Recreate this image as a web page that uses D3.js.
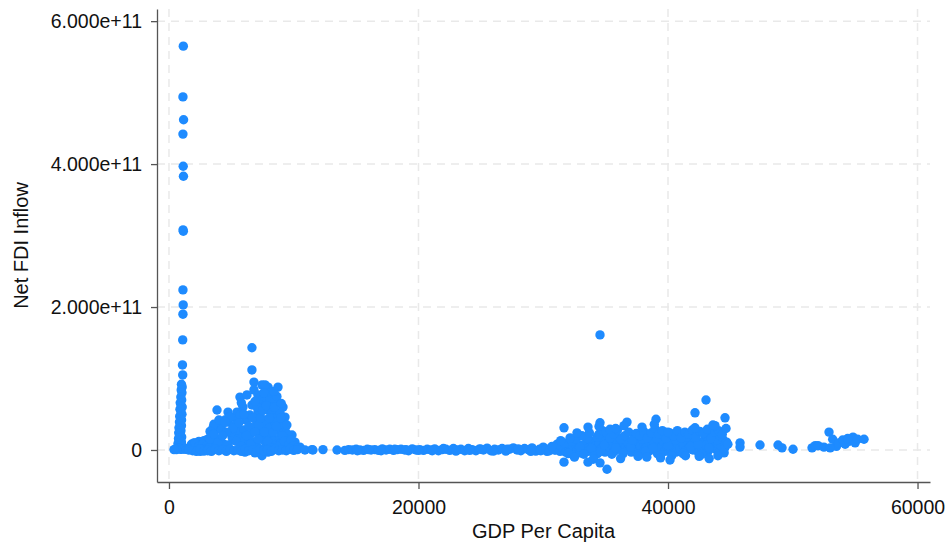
<!DOCTYPE html>
<html>
<head>
<meta charset="utf-8">
<script src="https://cdn.jsdelivr.net/npm/d3@7"></script>
<style>
  html, body { margin: 0; padding: 0; background: #ffffff; }
  svg { display: block; font-family: "Liberation Sans", Arial, sans-serif; }
</style>
</head>
<body>
<svg id="chart" width="948" height="542"></svg>
<script>
// ---- Data: [GDP per capita (US$), net FDI inflow (billions US$)] ----
const lowIncomeSpike = [
  [1150,565],[1120,494],[1170,462],[1120,442],[1140,397],[1160,383],[1130,308],[1150,306],
  [1120,224],[1140,203],[1120,190],[1100,154],[1080,119],[1100,105],[1000,92],[1060,88],
  [980,84],[1040,80],[950,74],[1020,70],[900,66],[980,62],[1060,60],[880,57],[960,53],
  [1040,50],[860,47],[940,44],[1010,42],[840,39],[920,36],[1000,34],[800,31],[880,29],
  [960,27],[780,24],[860,22],[940,20],[1020,18],[760,16],[840,14],[920,12],[1000,11],
  [720,9],[800,8],[880,7],[960,6],[1040,5],[1120,4],[680,3],[760,2],[840,2],[920,1],
  [1000,1],[1200,1],[1300,2],[1400,1],[600,0.5],[500,1],[400,0.5],[1500,0.5],[1600,1]
];
const lowerMiddleRamp = [
  [1700,4],[1800,8],[1900,3],[2000,10],[2100,6],[2200,2],[2300,9],[2400,12],[2500,5],
  [2600,11],[2700,3],[2800,13],[2900,8],[3000,14],[3100,4],[3200,16],[3300,10],[3400,20],
  [3500,25],[3600,15],[3700,6],[3800,30],[2200,-1],[2500,-2],[2800,0],[3100,-1],[3400,2],
  [3530,31],[3600,36],[3850,56],[4730,53],[4250,35],[4490,42],[5050,18],[3290,26],
  [4000,42],[4810,46],[5210,46],[5370,21],[4730,39],[4100,15],[4400,8],
  [1800,2],[2100,10],[2400,5],[2700,8],[3000,6],[3300,15],[3600,22],[3900,10],[4200,28],
  [2600,1],[3200,3]
];
const upperMiddleCluster = [
  [5690,74],[6250,77],[5930,60],[5450,53],[4890,46],[4490,39],
  [6650,143],[6650,112],[6810,95],[6810,84],
  [7940,88],[8740,88],[8260,81],[7700,70],[8260,66],[7455,73],
  [9140,60],[9300,46],[8900,38],[9060,24],[9860,21],[10100,11],[10500,4],
  [6090,7],[6330,14],[6490,21],[6730,31],[6970,42],[7130,53],[7300,63],
  [7455,28],[7700,42],[7940,56],[8100,73],[8500,70],[8580,53],[8740,42],[8260,35],
  [8100,21],[8500,14],[8900,17],[9300,28],[9540,14],[9140,7],[9700,4],[7780,7],
  [7130,3],[6490,0],[7455,-8],[7940,-3],[6890,-4],[6090,-3],
  [5290,35],[5530,28],[5850,17],[6170,42],[6010,28],[6490,49],[6650,63],[5690,49],
  [5130,14],[4730,7],[7130,77],[7455,91],[7780,81],[8260,53],[7780,35],[7700,91],
  [7000,10],[7300,18],[7600,14],[7850,22],[8300,8],[8700,28],[9000,10],[9400,5],
  [6800,5],[6600,12],[8000,30],[8400,45],[8900,52],[7200,35],[9200,36],[9500,22],
  [5000,25],[5400,12],[5600,38],[5800,5],[6000,50],[6200,20],[6400,33],[6550,8],[6700,45],
  [6900,25],[7050,60],[7150,15],[7350,45],[7500,55],[7650,25],[7800,62],[7900,12],[8050,45],
  [8150,3],[8350,25],[8450,60],[8600,33],[8800,5],[8950,45],[9100,20],[9250,12],[9450,35],
  [9600,8],[9800,14],[10000,6],[10200,2],[8650,75],[8400,82],[9000,65],[7600,80],[6900,68],
  [5800,66],[5100,30],[4600,25],[4300,20]
];
const middleBaseline = [
  [1600,0],[1900,-1],[2200,-2],[2500,1],[2800,-1.5],[3100,0],[3400,-2],[3700,1],[4000,-1],
  [4300,0.5],[4600,-2],[4900,1],[5200,-1],[5500,0],[5800,-2],[6100,1],[6400,-1],[6700,0],
  [7000,-3],[7300,1],[7600,-1],[7900,0.5],[8200,-2],[8500,1],[8800,-1],[9100,0],[9400,-1],
  [9700,1],[10000,-0.5],[10300,0.5],[10900,0],[11460,0.5]
];
const highIncomeBaseline = [
  [11540,0],[12345,0.5],[13470,0],[14100,-0.5],[14400,0.5],[14700,0],[15000,1],[15300,0],
  [15600,-0.5],[15900,1],[16200,0],[16500,0.5],[16800,-0.5],[17100,1.5],[17400,0],[17700,1],
  [18000,-0.5],[18300,0.5],[18600,1],[18900,0],[19200,-1],[19500,1.5],[19800,0],[20100,0.5],
  [20400,-0.5],[20700,1],[21000,0],[21300,1.5],[21600,-1],[21900,0.5],[22200,1],[22500,-0.5],
  [22800,2],[23100,0],[23400,1],[23700,-1],[24000,2],[24300,0.5],[24600,-1],[24900,1.5],
  [25200,0],[25500,2.5],[25800,-1],[26100,1],[26400,0],[26700,2],[27000,-1.5],[27300,1],
  [27600,3],[27900,0],[28200,-1],[28500,2],[28800,0.5],[29100,3],[29400,-1.5],[29700,1],
  [30000,4],[30300,-2],[30600,2.5],[30900,0],
  [15100,-1],[16000,0.5],[17000,-1],[18100,1],[19000,0.5],[20000,-0.5],[21100,-1],[22000,2],
  [23000,-1.5],[24100,-0.5],[25000,1],[26000,-1.5],[27100,1],[28000,1.5],[29000,-2],[29800,-1]
];
const highIncomeCloud = [
  [30200,1],[30500,-1],[30800,2],[31000,0],[31200,3],[31350,-2],[31500,4],[31650,1],[31800,-3],
  [31950,6],[32100,2],[32250,-1],[32400,5],[32550,8],[32700,0],[32850,3],[33000,-4],[33150,7],
  [33300,1],[33450,10],[33600,-2],[33750,4],[33900,12],[34050,0],[34200,6],[34350,-5],[34500,9],
  [34650,2],[34800,14],[34950,-3],[35100,5],[35250,11],[35400,0],[35550,7],[35700,-2],[35850,13],
  [36000,3],[36150,8],[36300,-1],[36450,10],[36600,4],[36750,1],[36900,6],[37050,-3],[37200,9],
  [37350,2],[37500,12],[37650,0],[37800,5],[37950,-4],[38100,8],[38250,3],[38400,14],[38550,-1],
  [38700,6],[38850,10],[39000,1],[39150,-5],[39300,7],[39450,3],[39600,12],[39750,-2],[39900,5],
  [40050,9],[40200,0],[40350,15],[40500,4],[40650,-3],[40800,8],[40950,2],[41100,11],[41250,6],
  [41400,-1],[41550,13],[41700,3],[41850,9],[42000,0],[42150,16],[42300,5],[42450,-4],[42600,10],
  [42750,2],[42900,14],[43050,7],[43200,-2],[43350,12],[43500,4],[43650,18],[43800,1],[43950,9],
  [44100,-3],[44250,6],[44400,15],[44550,3],[44700,11],
  [31100,8],[31700,10],[32000,-5],[32300,12],[32650,15],[32950,4],[33250,-6],[33550,16],[33850,2],
  [34100,-8],[34300,18],[34600,-2],[34900,7],[35200,20],[35500,-6],[35800,3],[36100,17],[36400,-5],
  [36700,12],[37000,4],[37300,18],[37600,-6],[37900,15],[38200,-2],[38500,20],[38800,3],[39100,16],
  [39400,-7],[39700,19],[40000,6],[40300,-8],[40600,14],[40900,21],[41200,-5],[41500,18],[41800,5],
  [42100,22],[42400,8],[42700,-6],[43000,20],[43300,3],[43600,24],[43900,14],[44200,20],[44500,-4],
  [44800,8],
  [30700,5],[31400,13],[32150,17],[33100,20],[33700,24],[34450,22],[34750,27],[35050,25],[35350,17],
  [35650,22],[35950,28],[36250,15],[36550,20],[36850,25],[37150,14],[37450,23],[37750,20],[38050,26],
  [38350,17],[38650,24],[38950,30],[39250,22],[39550,27],[39850,16],[40150,24],[40450,20],[40750,27],
  [41050,17],[41350,25],[41650,22],[41950,28],[42250,18],[42550,26],[42850,23],[43150,29],[43450,16],
  [43750,25],[44050,27],[44350,22],[44650,30],
  [34549,161],[43046,70],[42164,52],[44570,45],[39038,43],[36713,39],[36473,34],[34549,38],
  [33587,32],[31663,31],[32705,24],[35351,29],[37916,32],[43767,34],[42164,31],[34470,33],
  [40000,25],[43600,35],[38900,36],[35800,30],
  [35111,-27],[34549,-18],[31663,-17],[33587,-17],[40161,-14],[38300,-10],[41400,-8],[42500,-9],
  [44000,-8],[32500,-10],[36200,-12],[37600,-9],[39400,-11],[43300,-12],[34000,-13]
];
const richTail = [
  [45773,10],[45773,4],[47376,7],[48819,7],[49140,3],[50021,1],[51544,3],[51800,6],[52025,6],
  [52500,4],[52906,25],[53200,15],[53500,5],[53700,10],[54000,14],[54200,8],[54500,12],
  [54830,18],[55000,10],[55200,15],[55712,15],[53000,3],[54400,16]
];

const xTickValues = [0, 20000, 40000, 60000];
const xTickLabels = ["0", "20000", "40000", "60000"];
const yTickValues = [0, 2e11, 4e11, 6e11];
const yTickLabels = ["0", "2.000e+11", "4.000e+11", "6.000e+11"];
const xTitle = "GDP Per Capita";
const yTitle = "Net FDI Inflow";

// ---- Drawing ----
const BILLION = 1e9;
const allPoints = [].concat(lowIncomeSpike, lowerMiddleRamp, upperMiddleCluster,
  middleBaseline, highIncomeBaseline, highIncomeCloud, richTail);

const plot = { left: 157, right: 930, top: 9, bottom: 482 };
const x = d3.scaleLinear().domain([-960, 61000]).range([plot.left, plot.right]);
const y = d3.scaleLinear().domain([-0.448e11, 6.17e11]).range([plot.bottom, plot.top]);

const svg = d3.select("#chart");
svg.append("rect").attr("width", 948).attr("height", 542).attr("fill", "#ffffff");

const gridColor = "#e9e9e9";
svg.append("g").selectAll("line").data(yTickValues).join("line")
  .attr("x1", plot.left).attr("x2", plot.right)
  .attr("y1", d => y(d)).attr("y2", d => y(d))
  .attr("stroke", gridColor).attr("stroke-width", 1.5).attr("stroke-dasharray", "8,6");
svg.append("g").selectAll("line").data(xTickValues).join("line")
  .attr("y1", plot.top).attr("y2", plot.bottom)
  .attr("x1", d => x(d)).attr("x2", d => x(d))
  .attr("stroke", gridColor).attr("stroke-width", 1.5).attr("stroke-dasharray", "8,6");

svg.append("g").selectAll("circle").data(allPoints).join("circle")
  .attr("cx", d => x(d[0]))
  .attr("cy", d => y(d[1] * BILLION))
  .attr("r", 4.7)
  .attr("fill", "#1E8BFF");

const axisColor = "#555555";
const fontSize = "19.5px";

const xAxis = svg.append("g").attr("transform", `translate(0,${plot.bottom})`)
  .call(d3.axisBottom(x).tickValues(xTickValues).tickFormat((d, i) => xTickLabels[i])
    .tickSize(7).tickSizeOuter(0).tickPadding(11));
const yAxis = svg.append("g").attr("transform", `translate(${plot.left},0)`)
  .call(d3.axisLeft(y).tickValues(yTickValues).tickFormat((d, i) => yTickLabels[i])
    .tickSize(6).tickSizeOuter(0).tickPadding(9));

[xAxis, yAxis].forEach(g => {
  g.select(".domain").attr("stroke", axisColor).attr("stroke-width", 1.3);
  g.selectAll(".tick line").attr("stroke", axisColor).attr("stroke-width", 1.3);
  g.selectAll(".tick text").attr("fill", "#111111")
    .style("font-size", fontSize).style("font-family", "'Liberation Sans', Arial, sans-serif");
});

svg.append("text")
  .attr("x", (plot.left + plot.right) / 2).attr("y", 538)
  .attr("text-anchor", "middle").attr("fill", "#111111")
  .style("font-size", "20px")
  .text(xTitle);

svg.append("text")
  .attr("transform", `translate(28,${(plot.top + plot.bottom) / 2}) rotate(-90)`)
  .attr("text-anchor", "middle").attr("fill", "#111111")
  .style("font-size", "20px")
  .text(yTitle);
</script>
</body>
</html>
